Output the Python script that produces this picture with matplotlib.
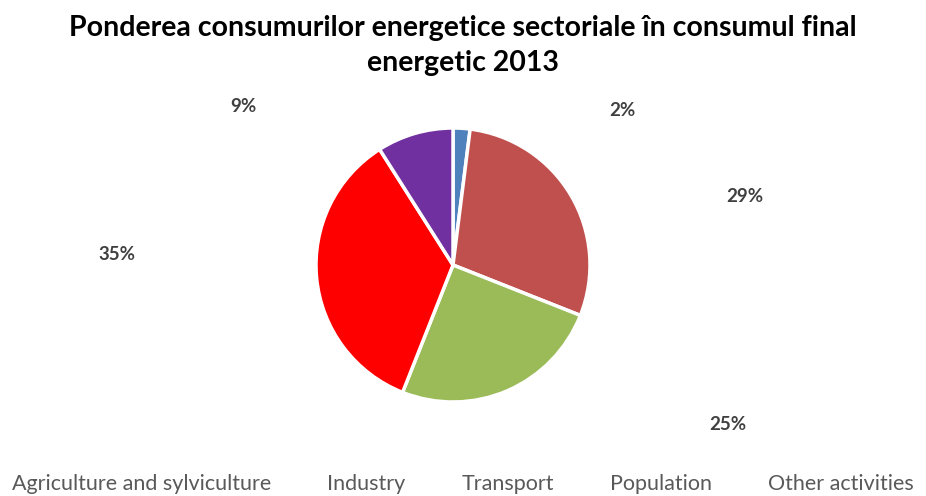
import matplotlib.pyplot as plt

# date
sectors = ['Agriculture and sylviculture', 'Industry', 'Transport', 'Population', 'Other activities']
shares = [2, 29, 25, 35, 9]
colors = ['#4F81BD', '#C0504D', '#9BBB59', '#FF0000', '#7030A0']

# pozitii etichete (pixeli in imagine)
label_pos = [(622, 110), (745, 197), (728, 425), (117, 255), (243, 106)]

W, H = 926, 496
fig = plt.figure(figsize=(W / 100, H / 100), dpi=100)
plt.rcParams['font.family'] = ['Lato', 'DejaVu Sans']

cx, cy, r = 453, 265, 137
ax = fig.add_axes([(cx - r) / W, (H - cy - r) / H, 2 * r / W, 2 * r / H])
wedges, _ = ax.pie(shares, colors=colors, startangle=90, counterclock=False,
                   wedgeprops=dict(edgecolor='white', linewidth=2.5))
ax.set_xlim(-1, 1)
ax.set_ylim(-1, 1)
ax.set_aspect('equal')

for (x, y), v in zip(label_pos, shares):
    fig.text(x / W, 1 - y / H, f'{v}%', ha='center', va='center',
             fontsize=13.5, fontweight='bold', color='#404040')

fig.text(0.5, 1 - 28 / H, 'Ponderea consumurilor energetice sectoriale în consumul final',
         ha='center', va='center', fontsize=20.5, fontweight='bold', color='black')
fig.text(0.5, 1 - 63 / H, 'energetic 2013',
         ha='center', va='center', fontsize=20.5, fontweight='bold', color='black')

leg = fig.legend(wedges, sectors, loc='center', bbox_to_anchor=(0.5, 1 - 484 / H),
                 ncol=5, frameon=False, handlelength=0, handletextpad=0,
                 columnspacing=2.6, fontsize=15.5)
for h in leg.legend_handles:
    h.set_visible(False)
for t in leg.get_texts():
    t.set_color('#595959')

fig.savefig('out.png', dpi=100)
